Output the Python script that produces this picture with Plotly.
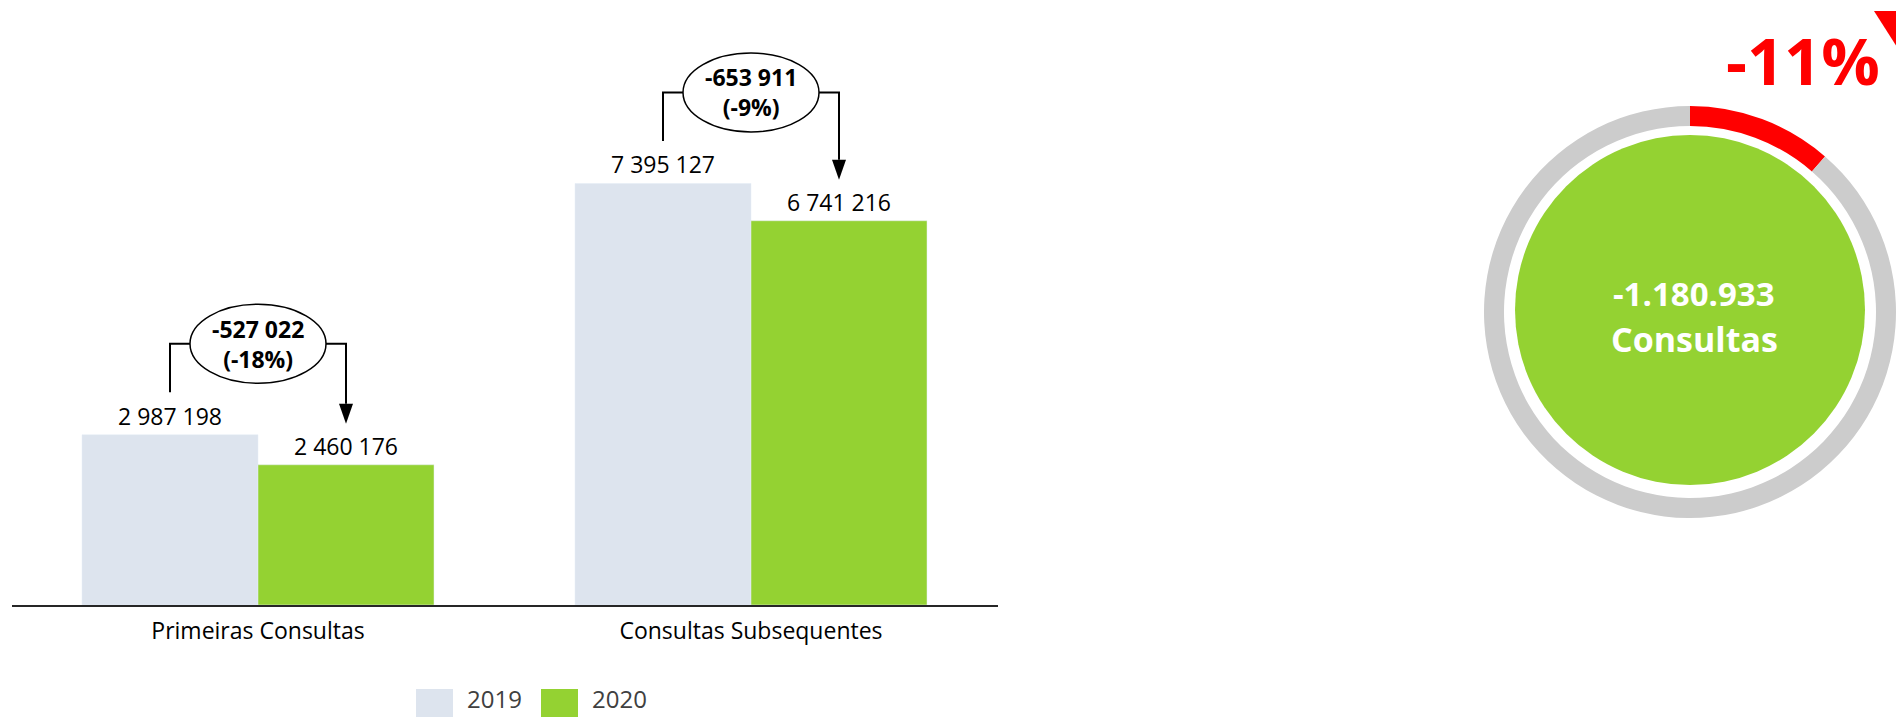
import plotly.graph_objects as go

# ---------------- data ----------------
categories = ["Primeiras Consultas", "Consultas Subsequentes"]
years = ["2019", "2020"]
values_2019 = [2987198, 7395127]
values_2020 = [2460176, 6741216]
diff_labels = ["-527 022", "-653 911"]
pct_labels = ["(-18%)", "(-9%)"]
total_drop_label = "-1.180.933"
total_drop_word = "Consultas"
total_pct_label = "-11%"
# donut shares: drop vs. what remained (from the totals)
donut_values = [sum(values_2019) - sum(values_2020), sum(values_2020)]

# ---------------- style ----------------
W, H = 1896, 717
C2019 = "#DDE4EE"
C2020 = "#94D232"
RED = "#FF0000"
RING = "#CCCCCC"
FONT = "Open Sans"


def pxp(x):                  # window pixel x -> paper x
    return x / W


def pyp(y):                  # window pixel y -> paper y
    return 1 - y / H


BARGAP = 0.286
BW = (1 - BARGAP) / 2          # width of one bar in category units
ZERO_Y = 605                   # pixel row of the baseline
PLOT_H = ZERO_Y                # plot area from top of figure to baseline
UNITS_PER_PX = 17544.0
YMAX = PLOT_H * UNITS_PER_PX
X_DOM = [pxp(11.5), pxp(997.5)]
CAT_PX = (997.5 - 11.5) / 2    # pixels per category


def fmt(v):
    return f"{v:,}".replace(",", " ")


def dy(p):                     # pixel offset -> data units on y
    return p * UNITS_PER_PX


def dx(p):                     # pixel offset -> category units on x
    return p / CAT_PX


fig = go.Figure()
for name, vals, col in [(years[0], values_2019, C2019), (years[1], values_2020, C2020)]:
    fig.add_trace(go.Bar(
        name=name, x=categories, y=vals, marker_color=col,
        text=[fmt(v) for v in vals], textposition="outside",
        textfont=dict(family=FONT, size=23, color="#000000"), cliponaxis=False,
        showlegend=False, hoverinfo="skip"))

shapes = []
annotations = []
LINE = dict(color="#000000", width=2)
for i in range(len(categories)):
    v19, v20 = values_2019[i], values_2020[i]
    x19, x20 = i - BW / 2, i + BW / 2
    y_top = v19 + dy(91)
    ex = dx(68)
    # left bracket
    shapes.append(dict(type="path", xref="x", yref="y", line=LINE,
                       path=f"M {x19},{v19 + dy(42.5)} L {x19},{y_top} L {i - ex},{y_top}"))
    # right bracket down to the arrow head
    tip = v20 + dy(41)
    head = tip + dy(20)
    shapes.append(dict(type="path", xref="x", yref="y", line=LINE,
                       path=f"M {i + ex},{y_top} L {x20},{y_top} L {x20},{head}"))
    shapes.append(dict(type="path", xref="x", yref="y", line=dict(width=0),
                       fillcolor="#000000",
                       path=f"M {x20 - dx(7)},{head} L {x20 + dx(7)},{head} L {x20},{tip} Z"))
    # ellipse
    shapes.append(dict(type="circle", xref="x", yref="y",
                       line=dict(color="#000000", width=1.5), fillcolor="white",
                       x0=i - ex, x1=i + ex, y0=y_top - dy(39.5), y1=y_top + dy(39.5)))
    annotations.append(dict(x=i, y=y_top, xref="x", yref="y",
                            text=f"<b>{diff_labels[i]}</b><br><b>{pct_labels[i]}</b>",
                            showarrow=False,
                            font=dict(family=FONT, size=23, color="#000000"),
                            xanchor="center", yanchor="middle"))

# custom legend (large swatches)
for lab, col, x0 in [(years[0], C2019, 416), (years[1], C2020, 541)]:
    shapes.append(dict(type="rect", xref="paper", yref="paper", line=dict(width=0),
                       fillcolor=col, x0=pxp(x0), x1=pxp(x0 + 37), y0=pyp(720), y1=pyp(689)))
    annotations.append(dict(x=pxp(x0 + 49), y=0, xref="paper", yref="paper",
                            text=lab, showarrow=False, xanchor="left", yanchor="bottom",
                            font=dict(family=FONT, size=24, color="#404040")))

# ---------------- donut ----------------
R = 206
CXP, CYP = 1690, 312
fig.add_trace(go.Pie(
    values=donut_values, labels=["queda", "restante"], sort=False,
    direction="clockwise", rotation=0, hole=(R - 20) / R,
    marker=dict(colors=[RED, RING], line=dict(width=0)),
    textinfo="none", hoverinfo="skip", showlegend=False,
    domain=dict(x=[pxp(CXP - R), 1.0], y=[pyp(CYP + R), pyp(CYP - R)])))

GR = 175
shapes.append(dict(type="circle", xref="paper", yref="paper", line=dict(width=0),
                   fillcolor=C2020, x0=pxp(CXP - GR), x1=pxp(CXP + GR),
                   y0=pyp(310 + GR), y1=pyp(310 - GR)))
annotations.append(dict(x=pxp(1694), y=pyp(293), xref="paper", yref="paper",
                        text=f"<b>{total_drop_label}</b>", showarrow=False,
                        font=dict(family=FONT, size=33, color="white"),
                        xanchor="center", yanchor="middle"))
annotations.append(dict(x=pxp(1694), y=pyp(339), xref="paper", yref="paper",
                        text=f"<b>{total_drop_word}</b>", showarrow=False,
                        font=dict(family=FONT, size=34, color="white"),
                        xanchor="center", yanchor="middle"))
annotations.append(dict(x=pxp(1803), y=pyp(60), xref="paper", yref="paper",
                        text=f"<b>{total_pct_label}</b>", showarrow=False,
                        font=dict(family=FONT, size=65, color=RED),
                        xanchor="center", yanchor="middle"))
shapes.append(dict(type="path", xref="paper", yref="paper", line=dict(width=0),
                   fillcolor=RED,
                   path=f"M {pxp(1874)},{pyp(11)} L {pxp(1920)},{pyp(11)} L {pxp(1897)},{pyp(47)} Z"))

fig.update_layout(
    width=W, height=H, autosize=False,
    margin=dict(l=0, r=0, t=0, b=0),
    paper_bgcolor="white", plot_bgcolor="white",
    barmode="group", bargap=BARGAP, bargroupgap=0,
    showlegend=False,
    xaxis=dict(domain=X_DOM, range=[-0.5, 1.5], showline=True, linecolor="#262626",
               linewidth=2, showgrid=False, zeroline=False, ticks="outside",
               ticklen=4, tickcolor="rgba(0,0,0,0)",
               tickfont=dict(family=FONT, size=23, color="#000000")),
    yaxis=dict(domain=[pyp(ZERO_Y), 1.0], range=[0, YMAX], visible=False),
    shapes=shapes, annotations=annotations,
)

fig.write_html("out.html",
               config={"displayModeBar": False, "staticPlot": True},
               post_script="document.body.style.margin='0px';"
                           "document.body.style.overflow='hidden';")
